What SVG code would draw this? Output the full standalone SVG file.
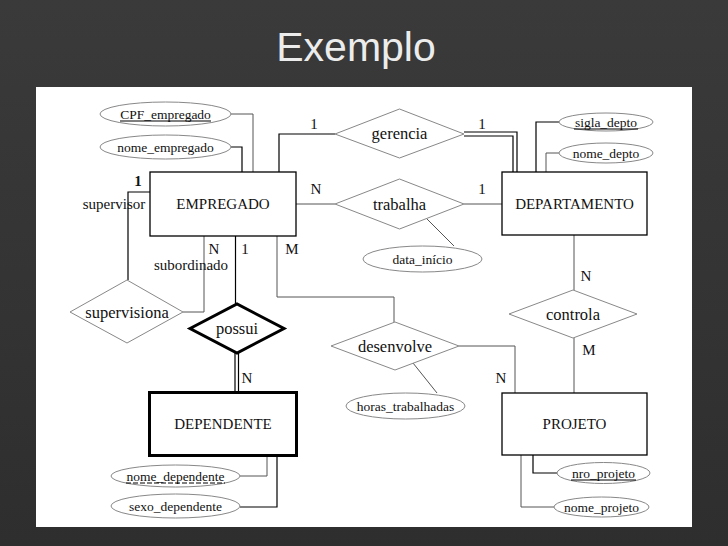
<svg xmlns="http://www.w3.org/2000/svg" width="728" height="546" viewBox="0 0 728 546">
<defs>
<linearGradient id="bg" x1="0" y1="0" x2="0" y2="1">
<stop offset="0" stop-color="#3a3a3a"/><stop offset="1" stop-color="#2e2e2e"/>
</linearGradient>
</defs>
<style>
.ent{fill:#fff;stroke:#000;stroke-width:1.3}
.weak{fill:#fff;stroke:#000;stroke-width:3}
.rel{fill:#fff;stroke:#888;stroke-width:1}
.wrel{fill:#fff;stroke:#000;stroke-width:3}
.att{fill:#fff;stroke:#888;stroke-width:1}
.ln{fill:none;stroke:#555;stroke-width:1}
.bk{fill:none;stroke:#000;stroke-width:1.2}
.t{font-family:"Liberation Serif","Times New Roman",serif;fill:#111;text-anchor:middle}
.te{font-size:15px}
.tr{font-size:16.5px}
.ta{font-size:13.5px}
.tc{font-size:15px}
.ul{stroke:#000;stroke-width:1}
</style>
<rect x="0" y="0" width="728" height="546" fill="url(#bg)"/>
<text x="356" y="61" font-family="Liberation Sans, Arial, sans-serif" font-size="41" fill="#ececec" text-anchor="middle">Exemplo</text>
<rect x="36" y="87" width="656" height="440" fill="#fff"/>

<g id="connectors">
<polyline class="ln" points="231,114 253,114 253,172"/>
<polyline class="bk" points="231,147 242,147 242,172"/>
<polyline class="bk" points="150,192 128,192 128,280"/>
<polyline class="ln" points="183,312 204,312 204,236"/>
<line class="bk" x1="235.5" y1="236" x2="235.5" y2="304"/>
<line class="bk" x1="235" y1="353" x2="235" y2="392"/>
<line class="bk" x1="238.5" y1="353" x2="238.5" y2="392"/>
<polyline class="ln" points="277,236 277,297 394,297 394,322"/>
<polyline class="ln" points="459,346 515,346 515,393"/>
<line class="ln" x1="413" y1="363" x2="437" y2="393"/>
<polyline class="bk" points="279,172 279,134 335,134"/>
<polyline class="bk" points="464,132 517,132 517,172"/>
<polyline class="bk" points="464,136 513,136 513,172"/>
<line class="ln" x1="296" y1="204" x2="335" y2="204"/>
<line class="ln" x1="464" y1="204" x2="502" y2="204"/>
<line class="ln" x1="427" y1="219" x2="454" y2="246"/>
<polyline class="bk" points="559,122 536,122 536,172"/>
<polyline class="ln" points="559,153 546,153 546,172"/>
<line class="ln" x1="574" y1="235" x2="574" y2="290"/>
<line class="ln" x1="574" y1="338" x2="574" y2="393"/>
<polyline class="bk" points="533,455 533,473 557,473"/>
<polyline class="ln" points="521,455 521,507 554,507"/>
<polyline class="ln" points="240,476 267,476 267,456"/>
<polyline class="bk" points="240,507 277,507 277,456"/>
</g>

<g id="EMPREGADO">
<rect class="ent" x="150" y="172" width="146" height="64"/>
<text class="t te" x="223" y="209">EMPREGADO</text>
</g>
<g id="DEPARTAMENTO">
<rect class="ent" x="502" y="172" width="145" height="63"/>
<text class="t te" x="574.5" y="209">DEPARTAMENTO</text>
</g>
<g id="DEPENDENTE">
<rect class="weak" x="149.5" y="392.5" width="147" height="63"/>
<text class="t te" x="223" y="429">DEPENDENTE</text>
</g>
<g id="PROJETO">
<rect class="ent" x="502" y="393" width="145" height="62"/>
<text class="t te" x="574.5" y="429">PROJETO</text>
</g>

<g id="gerencia">
<polygon class="rel" points="335,134 399.5,109 464,134 399.5,158"/>
<text class="t tr" x="399.5" y="139">gerencia</text>
</g>
<g id="trabalha">
<polygon class="rel" points="335,204 399.5,179 464,204 399.5,229"/>
<text class="t tr" x="399.5" y="210">trabalha</text>
</g>
<g id="supervisiona">
<polygon class="rel" points="70,312 127,280 183,312 127,343"/>
<text class="t tr" x="127" y="318">supervisiona</text>
</g>
<g id="possui">
<polygon class="wrel" points="190,328.5 237,304 284,328.5 237,353"/>
<text class="t tr" x="237" y="334">possui</text>
</g>
<g id="desenvolve">
<polygon class="rel" points="331,346 395,322 459,346 395,370"/>
<text class="t tr" x="395" y="352">desenvolve</text>
</g>
<g id="controla">
<polygon class="rel" points="509,314 573,290 637,314 573,338"/>
<text class="t tr" x="573" y="320">controla</text>
</g>

<g id="CPF_empregado">
<ellipse class="att" cx="165.5" cy="114" rx="65.5" ry="12"/>
<text class="t ta" x="165.5" y="118.5">CPF_empregado</text>
<line class="ul" x1="120" y1="121" x2="211" y2="121"/>
</g>
<g id="nome_empregado">
<ellipse class="att" cx="165.5" cy="147" rx="65.5" ry="12"/>
<text class="t ta" x="165.5" y="151.5">nome_empregado</text>
</g>
<g id="sigla_depto">
<ellipse class="att" cx="606" cy="122" rx="47" ry="9"/>
<text class="t ta" x="606" y="126.5">sigla_depto</text>
<line class="ul" x1="574" y1="129" x2="638" y2="129"/>
</g>
<g id="nome_depto">
<ellipse class="att" cx="606" cy="153" rx="47" ry="10"/>
<text class="t ta" x="606" y="157.5">nome_depto</text>
</g>
<g id="data_inicio">
<ellipse class="att" cx="422.5" cy="259" rx="59.5" ry="13"/>
<text class="t ta" x="422.5" y="263.5">data_início</text>
</g>
<g id="horas_trabalhadas">
<ellipse class="att" cx="405.5" cy="406" rx="59.5" ry="13"/>
<text class="t ta" x="405.5" y="410.5">horas_trabalhadas</text>
</g>
<g id="nro_projeto">
<ellipse class="att" cx="603.5" cy="473" rx="46.5" ry="10.5"/>
<text class="t ta" x="603.5" y="477.5">nro_projeto</text>
<line class="ul" x1="571" y1="480" x2="636" y2="480"/>
</g>
<g id="nome_projeto">
<ellipse class="att" cx="601.5" cy="507" rx="47.5" ry="10"/>
<text class="t ta" x="601.5" y="511.5">nome_projeto</text>
</g>
<g id="nome_dependente">
<ellipse class="att" cx="175.5" cy="476" rx="64.5" ry="11"/>
<text class="t ta" x="175.5" y="480.5">nome_dependente</text>
<line class="ul" x1="126" y1="483" x2="225" y2="483" stroke-dasharray="5,2"/>
</g>
<g id="sexo_dependente">
<ellipse class="att" cx="175.5" cy="506" rx="64.5" ry="12"/>
<text class="t ta" x="175.5" y="510.5">sexo_dependente</text>
</g>

<g id="labels">
<text class="t tc" x="138" y="186" font-weight="bold">1</text>
<text class="t tc" x="114" y="209">supervisor</text>
<text class="t tc" x="191" y="270">subordinado</text>
<text class="t tc" x="214" y="254">N</text>
<text class="t tc" x="245" y="254">1</text>
<text class="t tc" x="292" y="254">M</text>
<text class="t tc" x="314" y="129">1</text>
<text class="t tc" x="482" y="129">1</text>
<text class="t tc" x="316" y="194">N</text>
<text class="t tc" x="482" y="194">1</text>
<text class="t tc" x="247" y="383">N</text>
<text class="t tc" x="586" y="281">N</text>
<text class="t tc" x="589" y="355">M</text>
<text class="t tc" x="501" y="383">N</text>
</g>
</svg>
